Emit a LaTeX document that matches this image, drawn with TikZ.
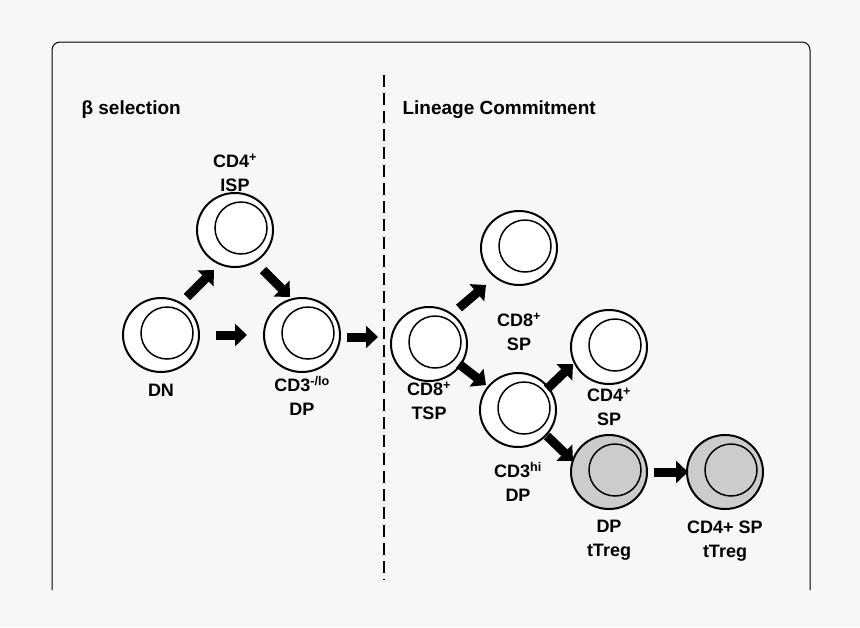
\documentclass[tikz,border=0pt]{standalone}
\usepackage{fontspec}
\setmainfont{Liberation Sans}
\usetikzlibrary{arrows.meta,shapes.geometric}
\definecolor{bg}{HTML}{F7F7F7}
\definecolor{cellgray}{HTML}{CCCCCC}
\begin{document}
\begin{tikzpicture}[x=1pt,y=-1pt,
  lbl/.style={font=\bfseries\fontsize{18}{24}\selectfont,align=center},
  arr/.style={line width=9pt,-{Triangle[length=12pt,width=22pt]}}]
\fill[bg] (0,0) rectangle (860,627);
\useasboundingbox (0,0) rectangle (860,627);
\draw[line width=1pt,rounded corners=8pt] (52,590) -- (52,42) -- (810,42) -- (810,590);
\draw[line width=1.8pt,dash pattern=on 12pt off 6pt] (384,75) -- (384,580);
\node[lbl,anchor=west,font=\bfseries\fontsize{19}{24}\selectfont] (h1) at (78,110) {β selection};
\node[lbl,anchor=west,font=\bfseries\fontsize{19}{24}\selectfont] (h2) at (399,110) {Lineage Commitment};
\newcommand{\cell}[4]{%
  \node[draw,line width=2pt,fill=#4,ellipse,minimum width=76pt,minimum height=74pt,inner sep=0] (#1) at (#2,#3) {};
  \draw[line width=1.5pt,fill=#4] (#2+6,#3-2) circle (26);}
\cell{dn}{161}{335}{white}
\cell{isp}{235}{230}{white}
\cell{dp}{302}{335}{white}
\cell{tsp}{429}{344}{white}
\cell{sp8}{519}{248}{white}
\cell{dphi}{518}{410}{white}
\cell{sp4}{609}{347}{white}
\cell{treg}{609}{472}{cellgray}
\cell{sptreg}{725}{472}{cellgray}
\node[lbl] (lisp) at (235,173) {CD4\textsuperscript{+}\\ISP};
\node[lbl] (ldn) at (161,390) {DN};
\node[lbl] (ldp) at (302,396) {CD3\textsuperscript{-/lo}\\DP};
\node[lbl] (ltsp) at (429,401) {CD8\textsuperscript{+}\\TSP};
\node[lbl] (lsp8) at (519,332) {CD8\textsuperscript{+}\\SP};
\node[lbl] (lsp4) at (609,407) {CD4\textsuperscript{+}\\SP};
\node[lbl] (ldphi) at (518,482) {CD3\textsuperscript{hi}\\DP};
\node[lbl] (ltreg) at (609,540) {DP\\tTreg};
\node[lbl] (lsptreg) at (725,541) {CD4+ SP\\tTreg};
\draw[arr] (216,335) -- (247,335);
\draw[arr] (347,337) -- (378,337);
\draw[arr] (187,297) -- (214,270);
\draw[arr] (263,270) -- (290,297);
\draw[arr] (459,308) -- (486,285);
\draw[arr] (459,364) -- (486,385);
\draw[arr] (547,389) -- (573,364);
\draw[arr] (547,436) -- (573,461);
\draw[arr] (654,472) -- (688,472);
\end{tikzpicture}
\end{document}
